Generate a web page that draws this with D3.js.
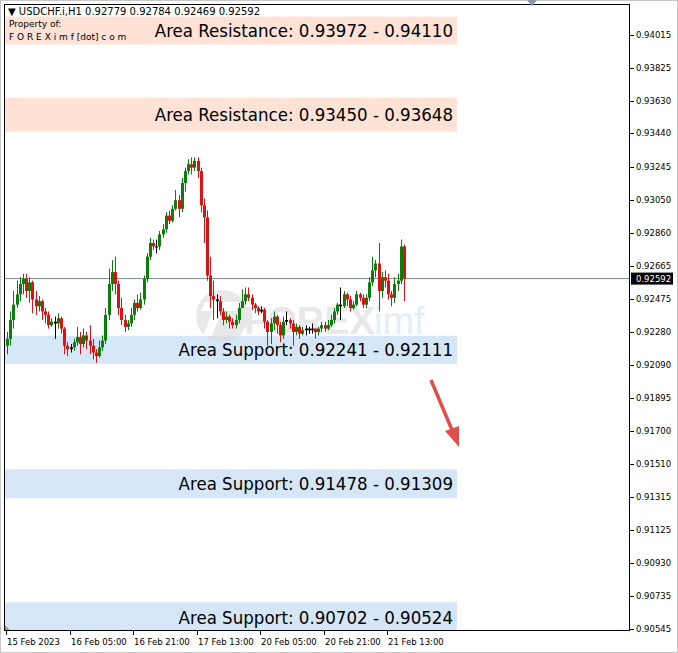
<!DOCTYPE html>
<html><head><meta charset="utf-8">
<script src="https://cdn.jsdelivr.net/npm/d3@7"></script>
<style>body{margin:0;background:#fff}svg{display:block;font-family:Tahoma,"DejaVu Sans",sans-serif}</style>
</head><body><svg id="c" width="678" height="653"></svg>
<script>
const opens = [.92200,.92240,.92350,.92440,.92500,.92560,.92590,.92520,.92570,.92470,.92430,.92460,.92400,.92380,.92320,.92340,.92330,.92360,.92300,.92200,.92180,.92190,.92220,.92250,.92210,.92260,.92230,.92200,.92160,.92140,.92190,.92230,.92380,.92560,.92630,.92560,.92420,.92350,.92310,.92330,.92380,.92450,.92420,.92470,.92590,.92720,.92800,.92780,.92780,.92850,.92880,.92960,.92930,.93000,.93050,.93000,.93150,.93220,.93260,.93240,.93280,.93220,.93020,.92950,.92610,.92490,.92470,.92460,.92400,.92350,.92370,.92340,.92320,.92350,.92420,.92460,.92500,.92480,.92440,.92420,.92400,.92410,.92340,.92280,.92330,.92370,.92320,.92260,.92340,.92350,.92330,.92280,.92310,.92270,.92290,.92300,.92290,.92300,.92280,.92300,.92320,.92300,.92320,.92350,.92400,.92440,.92430,.92500,.92470,.92420,.92440,.92500,.92480,.92440,.92480,.92570,.92640,.92680,.92520,.92600,.92580,.92500,.92480,.92560,.92580,.92780];
const closes = [.92240,.92350,.92440,.92500,.92560,.92590,.92520,.92570,.92470,.92430,.92460,.92400,.92380,.92320,.92340,.92330,.92360,.92300,.92200,.92180,.92190,.92220,.92250,.92210,.92260,.92230,.92200,.92160,.92140,.92190,.92230,.92380,.92560,.92630,.92560,.92420,.92350,.92310,.92330,.92380,.92450,.92420,.92470,.92590,.92720,.92800,.92780,.92780,.92850,.92880,.92960,.92930,.93000,.93050,.93000,.93150,.93220,.93260,.93240,.93280,.93220,.93020,.92950,.92610,.92490,.92470,.92460,.92400,.92350,.92370,.92340,.92320,.92350,.92420,.92460,.92500,.92480,.92440,.92420,.92400,.92410,.92340,.92280,.92330,.92370,.92320,.92260,.92340,.92350,.92330,.92280,.92310,.92270,.92290,.92300,.92290,.92300,.92280,.92300,.92320,.92300,.92320,.92350,.92400,.92440,.92430,.92500,.92470,.92420,.92440,.92500,.92480,.92440,.92480,.92570,.92640,.92680,.92520,.92600,.92580,.92500,.92480,.92560,.92580,.92780,.92592];
const highs = [.92280,.92400,.92520,.92580,.92600,.92620,.92620,.92600,.92580,.92520,.92490,.92470,.92420,.92400,.92360,.92370,.92390,.92370,.92310,.92220,.92210,.92240,.92310,.92280,.92300,.92280,.92320,.92240,.92180,.92230,.92260,.92420,.92650,.92700,.92720,.92580,.92480,.92380,.92350,.92420,.92470,.92500,.92510,.92610,.92740,.92830,.92820,.92820,.92870,.92910,.92980,.92990,.93020,.93110,.93080,.93180,.93240,.93290,.93300,.93300,.93300,.93240,.93060,.92990,.92720,.92580,.92500,.92490,.92420,.92400,.92380,.92360,.92380,.92450,.92530,.92540,.92540,.92500,.92450,.92430,.92430,.92420,.92350,.92360,.92400,.92380,.92340,.92370,.92400,.92360,.92350,.92330,.92320,.92310,.92320,.92310,.92330,.92300,.92310,.92340,.92340,.92350,.92380,.92420,.92450,.92540,.92520,.92510,.92490,.92460,.92520,.92510,.92500,.92500,.92600,.92720,.92700,.92800,.92630,.92640,.92620,.92520,.92600,.92620,.92820,.92790];
const lows = [.92150,.92200,.92300,.92420,.92460,.92500,.92480,.92450,.92390,.92380,.92400,.92350,.92330,.92300,.92310,.92240,.92300,.92270,.92150,.92140,.92160,.92170,.92200,.92150,.92190,.92180,.92150,.92120,.92100,.92130,.92170,.92210,.92350,.92520,.92500,.92380,.92320,.92280,.92290,.92310,.92350,.92400,.92410,.92440,.92570,.92700,.92760,.92740,.92760,.92830,.92860,.92910,.92920,.92990,.92950,.92980,.93100,.93200,.93200,.93220,.93180,.92980,.92800,.92580,.92420,.92350,.92360,.92380,.92320,.92330,.92300,.92300,.92300,.92330,.92420,.92440,.92460,.92410,.92390,.92380,.92390,.92300,.92200,.92210,.92290,.92270,.92220,.92240,.92320,.92300,.92200,.92260,.92240,.92260,.92260,.92270,.92270,.92240,.92260,.92280,.92280,.92290,.92310,.92330,.92380,.92350,.92420,.92430,.92400,.92410,.92430,.92460,.92420,.92420,.92460,.92550,.92600,.92400,.92480,.92540,.92470,.92430,.92450,.92520,.92560,.92460];
const priceTicks = [0.94015,0.93825,0.93630,0.93440,0.93245,0.93050,0.92860,0.92665,0.92475,0.92280,0.92090,0.91895,0.91700,0.91510,0.91315,0.91125,0.90930,0.90735,0.90545];
const timeTickIdx = [0,20,40,60,80,100,120];
const timeLabels = ["15 Feb 2023","16 Feb 05:00","16 Feb 21:00","17 Feb 13:00","20 Feb 05:00","20 Feb 21:00","21 Feb 13:00"];
const zoneKinds = ["Resistance","Resistance","Support","Support","Support"];
const zoneHi = [0.94110,0.93648,0.92241,0.91478,0.90702];
const zoneLo = [0.93972,0.93450,0.92111,0.91309,0.90524];
const lastPrice = 0.92592;

const svg = d3.select("#c");
const L=4,R=630,T=4,B=631;
const y = d3.scaleLinear().domain([0.90545,0.94015]).range([629,35]);
const x = d3.scaleLinear().domain([0,closes.length-1]).range([7,404]);

svg.append("rect").attr("x",0.5).attr("y",0.5).attr("width",677).attr("height",652).attr("fill","#fff").attr("stroke","#c8c8c8");
const g = svg.append("g");
g.append("defs").append("clipPath").attr("id","cp").append("rect").attr("x",L).attr("y",T).attr("width",R-L).attr("height",B-T);

zoneHi.forEach((h,i)=>{
  const lo=zoneLo[i], res=zoneKinds[i]==="Resistance";
  let y1=y(h), y2=y(lo);
  if (y2-y1<28){const m=(y1+y2)/2; y1=m-14; y2=m+14;}
  g.append("rect").attr("clip-path","url(#cp)").attr("x",L).attr("y",y1).attr("width",457-L).attr("height",y2-y1)
   .attr("fill",res?"#fde2d5":"#d5e7f7");
});

const wm = g.append("g").attr("opacity",0.55);
wm.append("circle").attr("cx",222).attr("cy",316).attr("r",26).attr("fill","#d7d7dc");
wm.append("path").attr("d","M205,302 L240,302 L236,311 L222,311 L212,336 L203,336 L213,311 L201,311 Z").attr("fill","#fff");
wm.append("text").attr("x",244).attr("y",334).attr("font-size",38).attr("font-weight","bold").attr("font-family","Arial,Liberation Sans,sans-serif").attr("fill","#d7d7dc").text("FOREX");
wm.append("text").attr("x",374).attr("y",334).attr("font-size",38).attr("font-family","Arial,Liberation Sans,sans-serif").attr("fill","#cfe0f3").text("imf");

g.append("line").attr("x1",L).attr("x2",R).attr("y1",y(lastPrice)).attr("y2",y(lastPrice)).attr("stroke","#7f8c8c").attr("stroke-width",1);

const c = g.append("g");
closes.forEach((cl,i)=>{
  const o=opens[i], up=cl>o, dj=Math.abs(cl-o)<0.00012;
  const col = dj? "#000" : (up?"#0a7d0a":"#e01010");
  const xc=Math.round(x(i))+0.5;
  c.append("line").attr("x1",xc).attr("x2",xc).attr("y1",y(highs[i])).attr("y2",y(lows[i])).attr("stroke",col);
  const yt=y(Math.max(o,cl)), yb=y(Math.min(o,cl));
  c.append("rect").attr("x",xc-1.5).attr("y",yt).attr("width",3).attr("height",Math.max(1,yb-yt)).attr("fill",col);
});

zoneHi.forEach((h,i)=>{
  const ym=(y(h)+y(zoneLo[i]))/2, res=zoneKinds[i]==="Resistance";
  const txt = res ? `${zoneLo[i].toFixed(5)} - ${h.toFixed(5)}` : `${h.toFixed(5)} - ${zoneLo[i].toFixed(5)}`;
  g.append("text").attr("x",453).attr("y",ym+6.5).attr("text-anchor","end").attr("font-size",18.5)
   .attr("font-family","DejaVu Sans Condensed,Tahoma,sans-serif").attr("fill","#000")
   .text(`Area ${zoneKinds[i]}: ${txt}`);
});

g.append("line").attr("x1",431).attr("y1",380).attr("x2",452).attr("y2",430).attr("stroke","#e0504a").attr("stroke-width",3.5);
g.append("path").attr("d","M459,447 L445,431 L459,426 Z").attr("fill","#e0504a");

svg.append("rect").attr("x",L+0.5).attr("y",T+0.5).attr("width",R-L-1).attr("height",B-T-1).attr("fill","none").attr("stroke","#000");
svg.append("path").attr("d","M527,0 L537,0 L532,6 Z").attr("fill","#8899aa");
svg.append("path").attr("d","M5,625 L10,630 L5,630 Z").attr("fill","#999");

svg.append("text").attr("x",8).attr("y",15).attr("font-size",10).attr("fill","#000").text("▼  USDCHF.i,H1  0.92779 0.92784 0.92469 0.92592");
svg.append("text").attr("x",9).attr("y",27).attr("font-size",9).attr("fill","#000").text("Property of:");
svg.append("text").attr("x",9).attr("y",40).attr("font-size",9).attr("fill","#000").text("F O R E X i m f [dot] c o m");

const pa = svg.append("g");
priceTicks.forEach(p=>{
  pa.append("line").attr("x1",R).attr("x2",R+4).attr("y1",Math.round(y(p))+0.5).attr("y2",Math.round(y(p))+0.5).attr("stroke","#000");
  pa.append("text").attr("x",R+6).attr("y",y(p)+3).attr("font-size",8.5).attr("fill","#000").text(p.toFixed(5));
});
pa.append("rect").attr("x",R+1).attr("y",y(lastPrice)-6).attr("width",42).attr("height",12).attr("fill","#000");
pa.append("text").attr("x",R+6).attr("y",y(lastPrice)+3).attr("font-size",8.5).attr("fill","#fff").text(lastPrice.toFixed(5));

timeTickIdx.forEach((k,i)=>{
  const xx=Math.round(x(k))-1;
  svg.append("line").attr("x1",xx+0.5).attr("x2",xx+0.5).attr("y1",B).attr("y2",B+4).attr("stroke","#000");
  svg.append("text").attr("x",xx+1).attr("y",645).attr("font-size",8.5).attr("fill","#000").text(timeLabels[i]);
});
</script></body></html>
